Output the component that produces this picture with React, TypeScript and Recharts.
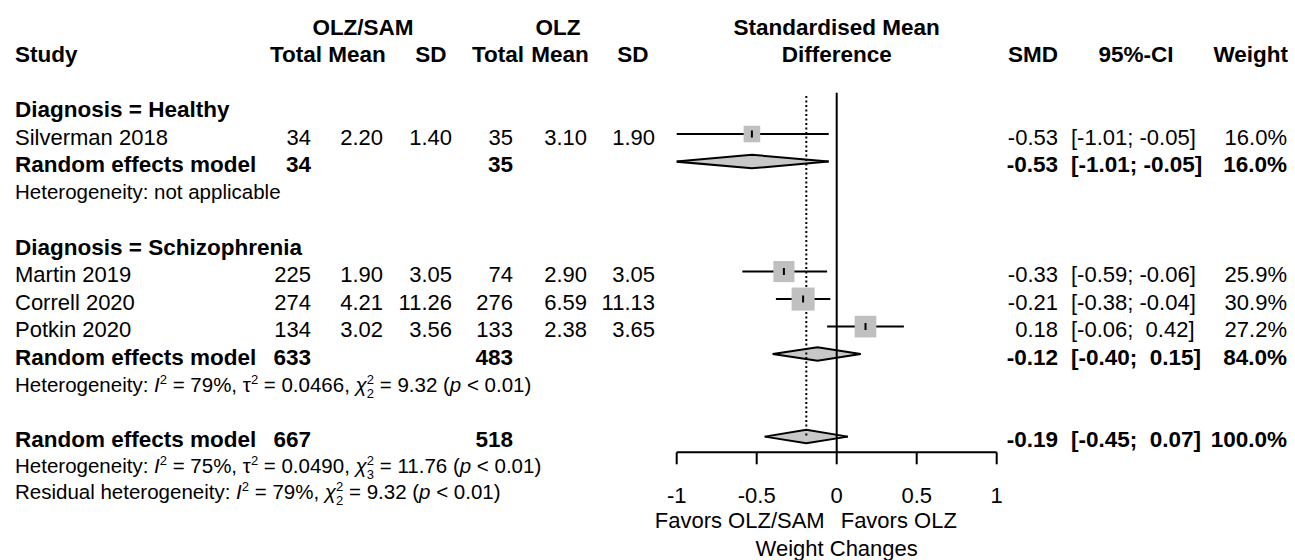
import React from "react";
import { ComposedChart, XAxis, YAxis, Line, Area, Scatter } from "recharts";

const FONT = "'Liberation Sans', Arial, Helvetica, sans-serif";

// individual studies
const studies = ["Silverman 2018", "Martin 2019", "Correll 2020", "Potkin 2020"];
const studyRows = [0, 5, 6, 7];
const samTotal = [34, 225, 274, 134];
const samMean = ["2.20", "1.90", "4.21", "3.02"];
const samSd = ["1.40", "3.05", "11.26", "3.56"];
const olzTotal = [35, 74, 276, 133];
const olzMean = ["3.10", "2.90", "6.59", "2.38"];
const olzSd = ["1.90", "3.05", "11.13", "3.65"];
const smd = [-0.53, -0.33, -0.21, 0.18];
const ciLow = [-1.01, -0.59, -0.38, -0.06];
const ciHigh = [-0.05, -0.06, -0.04, 0.42];
const weights = [16.0, 25.9, 30.9, 27.2];

// subgroups
const groups = ["Diagnosis = Healthy", "Diagnosis = Schizophrenia"];
const groupRows = [-1, 4];

// pooled estimates (healthy, schizophrenia, overall)
const pooledRows = [1, 8, 11];
const pooledSamTotal = [34, 633, 667];
const pooledOlzTotal = [35, 483, 518];
const pooledSmd = [-0.53, -0.12, -0.19];
const pooledLow = [-1.01, -0.4, -0.45];
const pooledHigh = [-0.05, 0.15, 0.07];
const pooledWeight = [16.0, 84.0, 100.0];

// heterogeneity (healthy, schizophrenia, overall, residual)
const hetRows = [2, 9];
const hetI2 = ["", "79", "75", "79"];
const hetTau2 = ["", "0.0466", "0.0490", ""];
const hetDf = ["", "2", "3", "2"];
const hetQ = ["", "9.32", "11.76", "9.32"];

const xTicks = [-1, -0.5, 0, 0.5, 1];

const COL = {
  study: 15,
  samTotal: 311,
  samMean: 383,
  samSd: 452,
  olzTotal: 513,
  olzMean: 587,
  olzSd: 655,
  smd: 1058,
  ci: 1071,
  weight: 1287,
};

const fmt = (v: number) => v.toFixed(2);
const fmtCi = (lo: number, hi: number) => `[${fmt(lo)};${hi >= 0 ? "  " : " "}${fmt(hi)}]`;

const T = (p: any) => (
  <text fontFamily={FONT} fontSize={22} fill="#000" style={{ whiteSpace: "pre" }} {...p} />
);
const B = (p: any) => <T fontWeight="bold" fontSize={22.5} {...p} />;

const HET_SIZE = 20.5;

const Het = ({ x, y, label, i }: any) => (
  <text x={x} y={y} fontFamily={FONT} fontSize={HET_SIZE} fill="#000" style={{ whiteSpace: "pre" }}>
    {label}
    <tspan fontStyle="italic">I</tspan>
    <tspan dy={-8} fontSize={13}>2</tspan>
    <tspan dy={8}>{` = ${hetI2[i]}%, `}</tspan>
    {hetTau2[i] ? (
      <>
        <tspan>τ</tspan>
        <tspan dy={-8} fontSize={13}>2</tspan>
        <tspan dy={8}>{` = ${hetTau2[i]}, `}</tspan>
      </>
    ) : null}
    <tspan fontStyle="italic">χ</tspan>
    <tspan dy={-8} fontSize={13}>2</tspan>
    <tspan dx={-7.2} dy={14} fontSize={13}>{hetDf[i]}</tspan>
    <tspan dy={-6}>{` = ${hetQ[i]} (`}</tspan>
    <tspan fontStyle="italic">p</tspan>
    <tspan>{" < 0.01)"}</tspan>
  </text>
);

const textRows: any[] = [
  { x: 0, y: -4, kind: "header1" },
  { x: 0, y: -3, kind: "header2" },
  ...groups.map((g, i) => ({ x: 0, y: groupRows[i], kind: "group", i })),
  ...studies.map((s, i) => ({ x: 0, y: studyRows[i], kind: "study", i })),
  ...pooledRows.map((r, i) => ({ x: 0, y: r, kind: "pooled", i })),
  ...hetRows.map((r, i) => ({ x: 0, y: r, kind: "het", i })),
];

const renderRow = (props: any) => {
  const { cx, cy, payload } = props;
  const by = cy + 10.5;
  const i = payload.i;
  if (payload.kind === "header1") {
    return (
      <g>
        <B x={363} y={by} textAnchor="middle">OLZ/SAM</B>
        <B x={558} y={by} textAnchor="middle">OLZ</B>
        <B x={cx} y={by} textAnchor="middle">Standardised Mean</B>
      </g>
    );
  }
  if (payload.kind === "header2") {
    return (
      <g>
        <B x={COL.study} y={by}>Study</B>
        <B x={296} y={by} textAnchor="middle">Total</B>
        <B x={357} y={by} textAnchor="middle">Mean</B>
        <B x={431} y={by} textAnchor="middle">SD</B>
        <B x={498} y={by} textAnchor="middle">Total</B>
        <B x={560} y={by} textAnchor="middle">Mean</B>
        <B x={633} y={by} textAnchor="middle">SD</B>
        <B x={cx} y={by} textAnchor="middle">Difference</B>
        <B x={COL.smd} y={by} textAnchor="end">SMD</B>
        <B x={1136} y={by} textAnchor="middle">95%-CI</B>
        <B x={1288} y={by} textAnchor="end">Weight</B>
      </g>
    );
  }
  if (payload.kind === "group") {
    return <B x={COL.study} y={by}>{groups[i]}</B>;
  }
  if (payload.kind === "study") {
    return (
      <g>
        <T x={COL.study} y={by}>{studies[i]}</T>
        <T x={COL.samTotal} y={by} textAnchor="end">{samTotal[i]}</T>
        <T x={COL.samMean} y={by} textAnchor="end">{samMean[i]}</T>
        <T x={COL.samSd} y={by} textAnchor="end">{samSd[i]}</T>
        <T x={COL.olzTotal} y={by} textAnchor="end">{olzTotal[i]}</T>
        <T x={COL.olzMean} y={by} textAnchor="end">{olzMean[i]}</T>
        <T x={COL.olzSd} y={by} textAnchor="end">{olzSd[i]}</T>
        <T x={COL.smd} y={by} textAnchor="end">{fmt(smd[i])}</T>
        <T x={COL.ci} y={by}>{fmtCi(ciLow[i], ciHigh[i])}</T>
        <T x={COL.weight} y={by} textAnchor="end">{`${weights[i].toFixed(1)}%`}</T>
      </g>
    );
  }
  if (payload.kind === "pooled") {
    return (
      <g>
        <B x={COL.study} y={by}>Random effects model</B>
        <B x={COL.samTotal} y={by} textAnchor="end">{pooledSamTotal[i]}</B>
        <B x={COL.olzTotal} y={by} textAnchor="end">{pooledOlzTotal[i]}</B>
        <B x={COL.smd} y={by} textAnchor="end">{fmt(pooledSmd[i])}</B>
        <B x={COL.ci} y={by}>{fmtCi(pooledLow[i], pooledHigh[i])}</B>
        <B x={COL.weight} y={by} textAnchor="end">{`${pooledWeight[i].toFixed(1)}%`}</B>
        {i === 2 ? (
          <>
            <Het x={COL.study} y={by + 26} label="Heterogeneity: " i={2} />
            <Het x={COL.study} y={by + 51.5} label="Residual heterogeneity: " i={3} />
          </>
        ) : null}
      </g>
    );
  }
  if (payload.kind === "het") {
    if (i === 0) {
      return (
        <text x={COL.study} y={cy + 10} fontFamily={FONT} fontSize={HET_SIZE} fill="#000">
          Heterogeneity: not applicable
        </text>
      );
    }
    return <Het x={COL.study} y={cy + 10} label="Heterogeneity: " i={1} />;
  }
  return <g />;
};

const renderSquare = (props: any) => {
  const { cx, cy, payload } = props;
  const s = 4.15 * Math.sqrt(payload.w);
  return (
    <g>
      <rect x={cx - s / 2} y={cy - s / 2} width={s} height={s} fill="#c0c0c0" />
      <line x1={cx} x2={cx} y1={cy - 3.5} y2={cy + 3.5} stroke="#000" strokeWidth={2} />
    </g>
  );
};

const AxisNotes = (props: any) => {
  const vb = props.viewBox || { x: 676.7, y: 452.3, width: 320 };
  const mid = vb.x + vb.width / 2;
  return (
    <g>
      <T x={mid - 12} y={vb.y + 76} textAnchor="end">Favors OLZ/SAM</T>
      <T x={mid + 4} y={vb.y + 76} textAnchor="start">Favors OLZ</T>
      <T x={mid} y={vb.y + 104} textAnchor="middle">Weight Changes</T>
    </g>
  );
};

const squareData = studies.map((_, i) => ({ x: smd[i], y: studyRows[i], w: weights[i] }));
const H = 0.245;

export default function App() {
  return (
    <div style={{ position: "absolute", left: 0, top: 0, background: "#fff" }}>
      <ComposedChart
        width={1295}
        height={560}
        margin={{ top: 10.25, right: 298.3, bottom: 77.7, left: 676.7 }}
      >
        <XAxis
          type="number"
          dataKey="x"
          domain={[-1, 1]}
          allowDataOverflow
          ticks={xTicks}
          interval={0}
          tickFormatter={(v: number) => String(v)}
          tickSize={12}
          tickMargin={23}
          height={30}
          axisLine={{ stroke: "#000", strokeWidth: 2 }}
          tickLine={{ stroke: "#000", strokeWidth: 2 }}
          tick={{ fill: "#000", fontSize: 22, fontFamily: FONT }}
          label={<AxisNotes />}
        />
        <XAxis xAxisId="t" type="number" dataKey="x" domain={[-1, 1]} hide />
        <YAxis type="number" dataKey="y" domain={[-4.5, 11.57]} reversed hide />

        {/* overall estimate, dotted */}
        <Line
          data={[
            { x: pooledSmd[2], y: -1.38 },
            { x: pooledSmd[2], y: pooledRows[2] },
          ]}
          dataKey="y"
          stroke="#000"
          strokeWidth={2}
          strokeDasharray="2 2.5"
          dot={false}
          activeDot={false}
          isAnimationActive={false}
        />

        {studies.map((s, i) => (
          <Line
            key={s}
            data={[
              { x: ciLow[i], y: studyRows[i] },
              { x: ciHigh[i], y: studyRows[i] },
            ]}
            dataKey="y"
            stroke="#000"
            strokeWidth={2}
            dot={false}
            activeDot={false}
            isAnimationActive={false}
          />
        ))}

        <Scatter data={squareData} dataKey="y" shape={renderSquare} isAnimationActive={false} />

        {pooledSmd.map((m, i) => (
          <Area
            key={`d-${i}`}
            data={[
              { x: pooledLow[i], band: [pooledRows[i], pooledRows[i]] },
              { x: m, band: [pooledRows[i] - H, pooledRows[i] + H] },
              { x: pooledHigh[i], band: [pooledRows[i], pooledRows[i]] },
            ]}
            dataKey="band"
            type="linear"
            fill="#c8c8c8"
            fillOpacity={1}
            stroke="#000"
            strokeWidth={2}
            dot={false}
            activeDot={false}
            isAnimationActive={false}
          />
        ))}

        {/* line of no effect */}
        <Line
          data={[
            { x: 0, y: -1.5 },
            { x: 0, y: 11.57 },
          ]}
          dataKey="y"
          stroke="#000"
          strokeWidth={2}
          dot={false}
          activeDot={false}
          isAnimationActive={false}
        />

        <Scatter
          xAxisId="t"
          data={textRows}
          dataKey="y"
          shape={renderRow}
          isAnimationActive={false}
        />
      </ComposedChart>
    </div>
  );
}
